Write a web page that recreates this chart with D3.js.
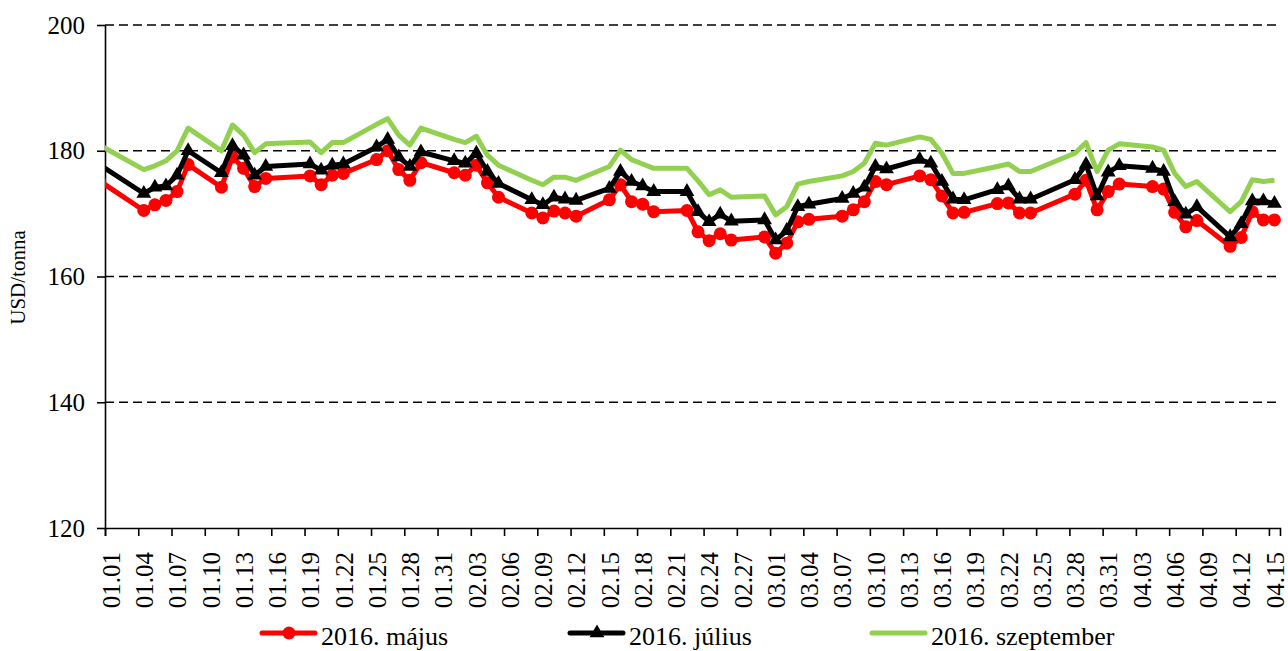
<!DOCTYPE html>
<html>
<head>
<meta charset="utf-8">
<script src="https://cdn.jsdelivr.net/npm/d3@7"></script>
<style>
  body { margin: 0; background: #fff; }
  text { font-family: "Times New Roman", "Liberation Serif", serif; fill: #000; }
</style>
</head>
<body>
<div id="linechart"></div>
<script>
// trading days (first one is 2015-12-31, clipped by the axis)
var dates = ["2015-12-31",
  "2016-01-04","2016-01-05","2016-01-06","2016-01-07","2016-01-08",
  "2016-01-11","2016-01-12","2016-01-13","2016-01-14","2016-01-15",
  "2016-01-19","2016-01-20","2016-01-21","2016-01-22",
  "2016-01-25","2016-01-26","2016-01-27","2016-01-28","2016-01-29",
  "2016-02-01","2016-02-02","2016-02-03","2016-02-04","2016-02-05",
  "2016-02-08","2016-02-09","2016-02-10","2016-02-11","2016-02-12",
  "2016-02-15","2016-02-16","2016-02-17","2016-02-18","2016-02-19",
  "2016-02-22","2016-02-23","2016-02-24","2016-02-25","2016-02-26",
  "2016-02-29","2016-03-01","2016-03-02","2016-03-03","2016-03-04",
  "2016-03-07","2016-03-08","2016-03-09","2016-03-10","2016-03-11",
  "2016-03-14","2016-03-15","2016-03-16","2016-03-17","2016-03-18",
  "2016-03-21","2016-03-22","2016-03-23","2016-03-24",
  "2016-03-28","2016-03-29","2016-03-30","2016-03-31","2016-04-01",
  "2016-04-04","2016-04-05","2016-04-06","2016-04-07","2016-04-08",
  "2016-04-11","2016-04-12","2016-04-13","2016-04-14","2016-04-15"];

var majus = [175.2,
  170.5,171.4,172.1,173.5,177.8,
  174.2,179.0,177.2,174.3,175.6,
  176.0,174.6,176.1,176.4,
  178.6,180.0,177.0,175.3,178.1,
  176.5,176.1,177.7,174.9,172.6,
  170.1,169.3,170.4,170.1,169.6,
  172.2,174.6,171.9,171.5,170.3,
  170.5,167.1,165.7,166.8,165.8,
  166.3,163.7,165.3,168.7,169.1,
  169.6,170.6,171.9,175.1,174.6,
  176.0,175.4,172.8,170.1,170.2,
  171.6,171.7,170.1,170.1,
  173.1,175.3,170.6,173.5,174.7,
  174.3,173.9,170.2,167.9,168.9,
  164.8,166.2,170.3,169.0,169.0];

var julius = [177.8,
  173.2,174.2,174.4,176.1,180.0,
  176.5,180.8,179.3,176.1,177.5,
  177.9,176.9,177.7,177.9,
  180.6,181.8,179.0,177.5,179.8,
  178.4,178.0,179.6,176.7,174.8,
  172.2,171.4,172.6,172.3,172.1,
  174.0,176.7,175.1,174.4,173.5,
  173.5,170.3,168.7,169.9,168.8,
  169.0,165.8,167.3,171.1,171.5,
  172.4,173.2,174.2,177.5,177.1,
  178.6,178.0,175.1,172.3,172.2,
  173.8,174.4,172.3,172.3,
  175.4,177.8,172.8,176.6,177.6,
  177.2,176.7,171.9,169.9,171.1,
  166.3,168.4,172.0,172.0,171.6];

var szeptember = [180.9,
  177.0,177.6,178.4,180.0,183.6,
  180.0,184.1,182.5,179.7,181.1,
  181.4,179.7,181.3,181.3,
  184.2,185.1,182.5,180.9,183.6,
  181.8,181.3,182.3,179.3,177.7,
  175.3,174.6,175.8,175.8,175.3,
  177.5,180.1,178.6,177.9,177.2,
  177.2,175.2,173.0,173.8,172.6,
  172.8,169.8,171.1,174.7,175.1,
  176.0,176.7,178.0,181.2,180.9,
  182.2,181.8,179.6,176.4,176.4,
  177.5,177.9,176.7,176.7,
  179.6,181.3,176.7,180.1,181.1,
  180.6,180.1,176.4,174.3,175.1,
  170.3,171.9,175.4,175.1,175.3];

var seriesNames = ["2016. május", "2016. július", "2016. szeptember"];
var yTicks = [120, 140, 160, 180, 200];
var yTitle = "USD/tonna";

var width = 1288, height = 651,
    plotLeft = 105, plotRight = 1280, plotTop = 25, plotBottom = 528,
    red = "#ff0000", black = "#000000", green = "#92d050";

var parse = d3.timeParse("%Y-%m-%d");
var fmt = d3.timeFormat("%m.%d");
var days = dates.map(parse);

var scale_x = d3.scaleTime()
    .domain([parse("2016-01-01"), parse("2016-04-16")])
    .range([plotLeft, plotRight]);
var band = scale_x(parse("2016-01-02")) - scale_x(parse("2016-01-01"));

var scale_y = d3.scaleLinear()
    .domain([120, 200])
    .range([plotBottom, plotTop]);

var svg = d3.select('#linechart')
    .append('svg')
    .attr('width', width)
    .attr('height', height);

svg.append('clipPath').attr('id', 'plotclip')
    .append('rect')
    .attr('x', plotLeft).attr('y', 0)
    .attr('width', plotRight - plotLeft + 10).attr('height', plotBottom + 10);

// dashed grid
svg.append('g')
    .selectAll('line')
    .data(yTicks.filter(function (d) { return d > 120; }))
    .enter().append('line')
    .attr('x1', plotLeft).attr('x2', plotRight)
    .attr('y1', function (d) { return scale_y(d); })
    .attr('y2', function (d) { return scale_y(d); })
    .attr('stroke', '#000')
    .attr('stroke-width', 1.6)
    .attr('stroke-dasharray', '9,5');

// y axis
var yAxis = svg.append('g')
    .attr('transform', 'translate(' + plotLeft + ',0)')
    .call(d3.axisLeft(scale_y).tickValues(yTicks).tickSize(8).tickPadding(12).tickSizeOuter(0));
yAxis.select('.domain').attr('stroke-width', 1.6);
yAxis.selectAll('line').attr('stroke-width', 1.6);
yAxis.selectAll('text').style('font-size', '25px')
    .attr('font-family', null);

// x axis: ticks at day boundaries, labels in the middle of the day
var tickDays = d3.timeDay.range(parse("2016-01-01"), parse("2016-04-16"), 3);
var xAxis = svg.append('g')
    .attr('transform', 'translate(0,' + plotBottom + ')')
    .call(d3.axisBottom(scale_x).tickValues(tickDays).tickFormat(fmt).tickSizeOuter(0).tickSize(8));
xAxis.select('.domain').attr('stroke-width', 1.6);
xAxis.selectAll('line').attr('stroke-width', 1.6);
xAxis.selectAll('text')
    .style('font-size', '25px')
    .attr('font-family', null)
    .attr('text-anchor', 'end')
    .attr('x', 0).attr('y', 0).attr('dy', '0.35em')
    .attr('transform', 'translate(' + (band / 2) + ',24) rotate(-90)');

// y title
svg.append('text')
    .text(yTitle)
    .attr('transform', 'translate(25,' + ((plotTop + plotBottom) / 2 + 1) + ') rotate(-90)')
    .attr('text-anchor', 'middle')
    .style('font-size', '21px');

// lines
var rows = days.map(function (d, i) {
  return { x: d3.timeHour.offset(d, 12), a: majus[i], b: julius[i], c: szeptember[i] };
});
function line_generator(key) {
  return d3.line()
    .x(function (d) { return scale_x(d.x); })
    .y(function (d) { return scale_y(d[key]); });
}

var plot = svg.append('g').attr('clip-path', 'url(#plotclip)');

plot.append('path')
    .attr('d', line_generator('a')(rows))
    .attr('fill', 'none').attr('stroke', red)
    .attr('stroke-width', 5).attr('stroke-linejoin', 'round');
plot.selectAll('.dot')
    .data(rows).enter().append('circle')
    .attr('class', 'dot')
    .attr('cx', function (d) { return scale_x(d.x); })
    .attr('cy', function (d) { return scale_y(d.a); })
    .attr('r', 6.5)
    .attr('fill', red);

plot.append('path')
    .attr('d', line_generator('b')(rows))
    .attr('fill', 'none').attr('stroke', black)
    .attr('stroke-width', 5).attr('stroke-linejoin', 'round');
var tri = d3.symbol().type(d3.symbolTriangle).size(95);
plot.selectAll('.tri')
    .data(rows).enter().append('path')
    .attr('class', 'tri')
    .attr('d', tri)
    .attr('transform', function (d) {
      return 'translate(' + scale_x(d.x) + ',' + scale_y(d.b) + ')';
    })
    .attr('fill', black);

plot.append('path')
    .attr('d', line_generator('c')(rows))
    .attr('fill', 'none').attr('stroke', green)
    .attr('stroke-width', 5).attr('stroke-linejoin', 'round');

// legend
var legendX = [262, 570, 872];
var legendColors = [red, black, green];
var ly = 633;
var legend = svg.append('g');
seriesNames.forEach(function (name, i) {
  var g = legend.append('g').attr('transform', 'translate(' + legendX[i] + ',' + ly + ')');
  g.append('line')
    .attr('x1', 0).attr('x2', 53)
    .attr('stroke', legendColors[i]).attr('stroke-width', 5)
    .attr('stroke-linecap', 'round');
  if (i === 0) {
    g.append('circle').attr('cx', 27).attr('r', 6.5).attr('fill', red);
  } else if (i === 1) {
    g.append('path').attr('d', tri).attr('transform', 'translate(27,0)').attr('fill', black);
  }
  g.append('text')
    .text(name)
    .attr('x', 59).attr('y', 12)
    .style('font-size', '26px');
});
</script>
</body>
</html>
